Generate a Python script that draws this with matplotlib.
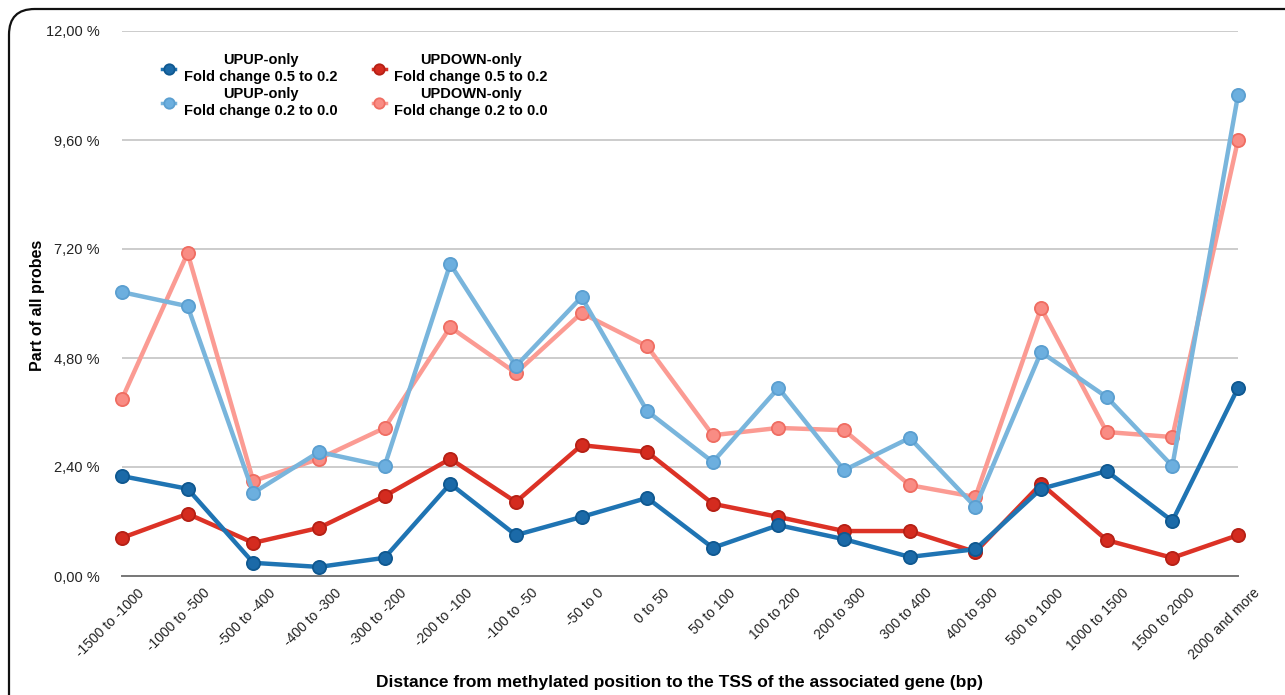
import matplotlib
matplotlib.use('Agg')
from matplotlib import pyplot as plt
from matplotlib.patches import FancyBboxPatch
from matplotlib.transforms import ScaledTranslation

plt.rcParams['font.family'] = ['Liberation Sans', 'DejaVu Sans']

categories = [
    '-1500 to -1000', '-1000 to -500', '-500 to -400', '-400 to -300',
    '-300 to -200', '-200 to -100', '-100 to -50', '-50 to 0', '0 to 50',
    '50 to 100', '100 to 200', '200 to 300', '300 to 400', '400 to 500',
    '500 to 1000', '1000 to 1500', '1500 to 2000', '2000 and more',
]
upup_strong = [2.20, 1.92, 0.29, 0.20, 0.40, 2.03, 0.90, 1.30, 1.72,
               0.62, 1.12, 0.81, 0.42, 0.59, 1.92, 2.31, 1.21, 4.14]
upup_weak = [6.25, 5.94, 1.83, 2.73, 2.42, 6.87, 4.62, 6.14, 3.63,
             2.51, 4.14, 2.33, 3.04, 1.52, 4.93, 3.94, 2.42, 10.59]
updown_strong = [0.84, 1.37, 0.73, 1.06, 1.76, 2.58, 1.63, 2.88, 2.73,
                 1.59, 1.30, 0.99, 0.99, 0.53, 2.03, 0.79, 0.40, 0.90]
updown_weak = [3.90, 7.11, 2.09, 2.58, 3.26, 5.48, 4.47, 5.79, 5.06,
               3.10, 3.26, 3.21, 2.00, 1.74, 5.90, 3.17, 3.06, 9.60]
y_ticks = [0.0, 2.4, 4.8, 7.2, 9.6, 12.0]

W, H = 1285, 695
fig = plt.figure(figsize=(W / 100, H / 100), dpi=100)
# rounded frame round the figure, cut off at the right and bottom edges
fig.patches.append(FancyBboxPatch(
    (9 / W, -0.2), 1.2, 1.2 - 9 / H, transform=fig.transFigure,
    boxstyle='round,pad=0,rounding_size=0.02', fill=False,
    edgecolor='#111111', linewidth=1.6, mutation_aspect=W / H))

ax = fig.add_axes([122 / W, 119 / H, (1238 - 122) / W, (576 - 31) / H])
x = list(range(len(categories)))

series = [
    (updown_weak, 'UPDOWN-only\nFold change 0.2 to 0.0', '#fb9b93', '#f98c84', '#ef6d62'),
    (upup_weak, 'UPUP-only\nFold change 0.2 to 0.0', '#79b5dc', '#6cafdf', '#5b9fd0'),
    (updown_strong, 'UPDOWN-only\nFold change 0.5 to 0.2', '#dc3226', '#d42b1f', '#b52015'),
    (upup_strong, 'UPUP-only\nFold change 0.5 to 0.2', '#1f74b3', '#1b6aa8', '#0f5890'),
]
handles = {}
for values, label, line_c, face_c, edge_c in series:
    line, = ax.plot(x, values, color=line_c, linewidth=3.2, marker='o',
                    markersize=9.5, markerfacecolor=face_c,
                    markeredgecolor=edge_c, markeredgewidth=1.3,
                    clip_on=False, label=label, zorder=3)
    handles[label] = line

ax.set_xlim(0, len(categories) - 1)
ax.set_ylim(0, 12)
ax.set_yticks(y_ticks)
ax.set_yticklabels([f'{v:.2f} %'.replace('.', ',') for v in y_ticks], fontsize=10.5, color='#222222')
ax.yaxis.grid(True, color='#c4c4c4', linewidth=1.2)
ax.set_axisbelow(True)
for side in ['top', 'right', 'left']:
    ax.spines[side].set_visible(False)
ax.spines['bottom'].set_color('#777777')
ax.spines['bottom'].set_linewidth(1.4)
ax.tick_params(axis='both', length=0)
ax.tick_params(axis='y', pad=16)

ax.set_xticks(x)
ax.set_xticklabels(categories, rotation=45, ha='right', va='top',
                   rotation_mode='anchor', fontsize=10, color='#222222')
offset = ScaledTranslation(0.15, -0.05, fig.dpi_scale_trans)
for lbl in ax.get_xticklabels():
    lbl.set_transform(lbl.get_transform() + offset)

fig.text(38 / W, 1 - 305 / H, 'Part of all probes', rotation=90,
         ha='center', va='center', fontsize=11.5, fontweight='bold')
fig.text(680 / W, 1 - 683 / H, 'Distance from methylated position to the TSS of the associated gene (bp)',
         ha='center', va='center', fontsize=12.5, fontweight='bold')

order = ['UPUP-only\nFold change 0.5 to 0.2', 'UPUP-only\nFold change 0.2 to 0.0',
         'UPDOWN-only\nFold change 0.5 to 0.2', 'UPDOWN-only\nFold change 0.2 to 0.0']
leg = ax.legend([handles[k] for k in order], order, ncol=2, frameon=False,
                loc='upper left', bbox_to_anchor=(149 / W, 1 - 40 / H),
                bbox_transform=fig.transFigure, handlelength=0.9,
                handletextpad=0.6, columnspacing=2.4, labelspacing=0.15,
                prop={'size': 10.5, 'weight': 'bold'})
for txt in leg.get_texts():
    txt.set_multialignment('center')
    txt.set_linespacing(1.3)
for h in leg.legend_handles:
    h.set_markersize(7.5)
    h.set_linewidth(2.5)

fig.savefig('out.png', dpi=100)
